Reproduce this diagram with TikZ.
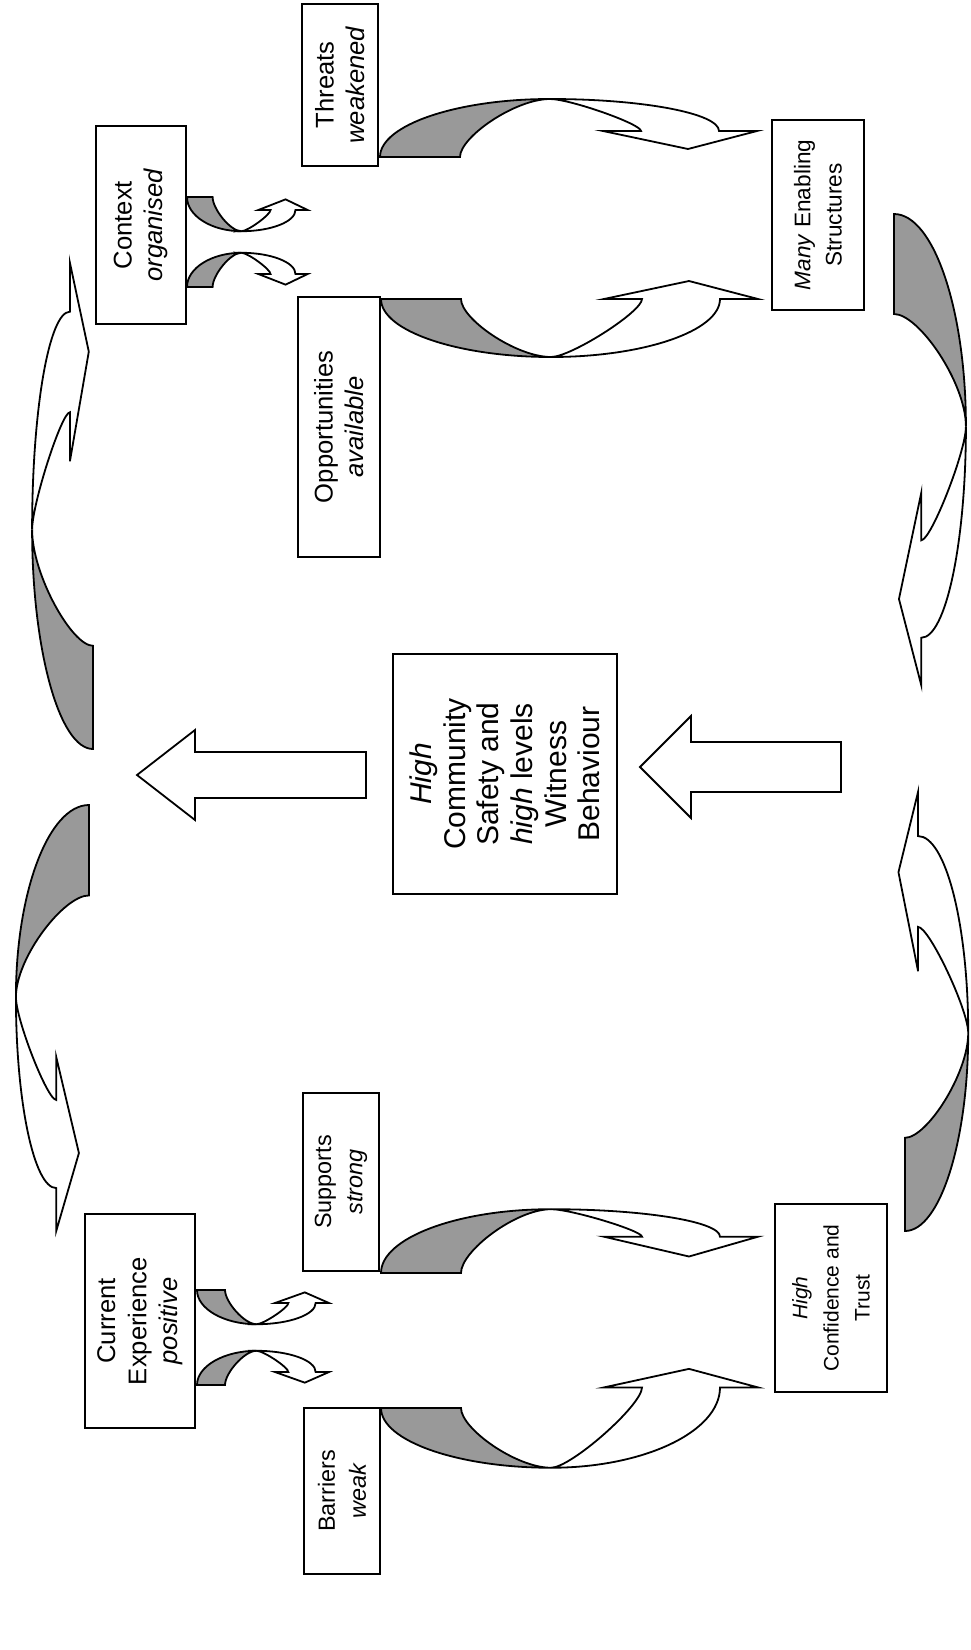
\documentclass[tikz,border=0pt]{standalone}
\usepackage{fontspec}
\setmainfont{Liberation Sans}

% curved block arrow: shaded back half, white front half with the head
% optional argument = level of the head barbs (local units)
\newcommand{\bentarrow}[2][22]{%
  \pgfmathsetmacro{\hout}{#1+0.55*(58-#1)}%
  \pgfmathsetmacro{\hin}{#1+0.22*(58-#1)}%
  \pgfmathsetmacro{\htip}{#1-18}%
  \begin{scope}[#2]
    \filldraw[backpart] (0,0) .. controls (0,32) and (77,58) .. (170,58)
      .. controls (135,58) and (80,20) .. (80,0) -- cycle;
    \filldraw[frontpart] (170,58) .. controls (263,58) and (339,\hout) .. (339,#1)
      -- (377,#1) -- (308,\htip) -- (223,#1) -- (261,#1)
      .. controls (261,\hin) and (190,58) .. (170,58) -- cycle;
  \end{scope}}

\begin{document}
\begin{tikzpicture}[
  x=0.5pt, y=-0.5pt,
  box/.style={draw, line width=0.9pt, rotate=90, align=center, inner sep=2pt,
              font=\fontsize{#1}{15.6pt}\selectfont},
  box/.default=12.8,
  backpart/.style={fill=black!40, draw=black, line width=0.9pt},
  frontpart/.style={fill=white, draw=black, line width=0.9pt},
  blockarrow/.style={fill=white, draw=black, line width=0.9pt}
]
  \useasboundingbox (0,0) rectangle (970,1650);

  % Boxes
  \node[box, minimum width=81pt, minimum height=38pt] (threats) at (340,85) {Threats\\\textit{weakened}};
  \node[box, minimum width=99pt, minimum height=45pt] (context) at (141,225) {Context\\\textit{organised}};
  \node[box, minimum width=130pt, minimum height=41pt] (opport) at (339,427) {Opportunities\\\textit{available}};
  \node[box=11.3, minimum width=95pt, minimum height=46pt] (many) at (818,215) {\textit{Many} Enabling\\Structures};
  \node[box, minimum width=120pt, minimum height=112pt, font=\fontsize{15}{16.8pt}\selectfont] (safety) at (505,774)
    {\textit{High}\\Community\\Safety and\\\textit{high} levels\\Witness\\Behaviour};
  \node[box, minimum width=107pt, minimum height=55pt] (current) at (140,1321) {Current\\Experience\\\textit{positive}};
  \node[box=11.7, minimum width=89pt, minimum height=38pt] (supports) at (341,1182) {Supports\\\textit{strong}};
  \node[box=11.7, minimum width=83pt, minimum height=38pt] (barriers) at (342,1491) {Barriers\\\textit{weak}};
  \node[box=10.5, minimum width=94pt, minimum height=56pt] (trust) at (831,1298) {\textit{High}\\Confidence and\\Trust};

  % Small curved arrows out of the two left boxes
  \bentarrow{shift={(197,1290)}, x={(0.175pt,0pt)}, y={(0pt,-0.295pt)}}
  \bentarrow{shift={(197,1385)}, x={(0.175pt,0pt)}, y={(0pt,0.295pt)}}
  \bentarrow{shift={(187,197)}, x={(0.16pt,0pt)}, y={(0pt,-0.295pt)}}
  \bentarrow{shift={(187,287)}, x={(0.16pt,0pt)}, y={(0pt,0.295pt)}}

  % Curved arrows towards the right hand boxes
  \foreach \sx/\sy/\d/\hd in {381/1273/0.55/33, 381/1408/-0.515/-20, 380/157/0.5/26, 381/299/-0.5/0}
    \bentarrow[\hd]{shift={(\sx,\sy)}, x={(0.5pt,0pt)}, y={(0pt,\d pt)}};

  % Big curved arrows round the outside
  \bentarrow{shift={(93,749)}, x={(0pt,0.645pt)}, y={(-0.525pt,0pt)}}
  \bentarrow[26]{shift={(89,805)}, x={(0pt,-0.565pt)}, y={(-0.63pt,0pt)}}
  \bentarrow{shift={(894,214)}, x={(0pt,-0.625pt)}, y={(0.62pt,0pt)}}
  \bentarrow[12]{shift={(905,1231)}, x={(0pt,0.5825pt)}, y={(0.545pt,0pt)}}

  % Straight block arrows
  \draw[blockarrow] (366,752) -- (195,752) -- (195,730) -- (137,775)
    -- (195,820) -- (195,798) -- (366,798) -- cycle;
  \draw[blockarrow] (841,742) -- (691,742) -- (691,716) -- (640,767)
    -- (691,818) -- (691,792) -- (841,792) -- cycle;
\end{tikzpicture}
\end{document}
